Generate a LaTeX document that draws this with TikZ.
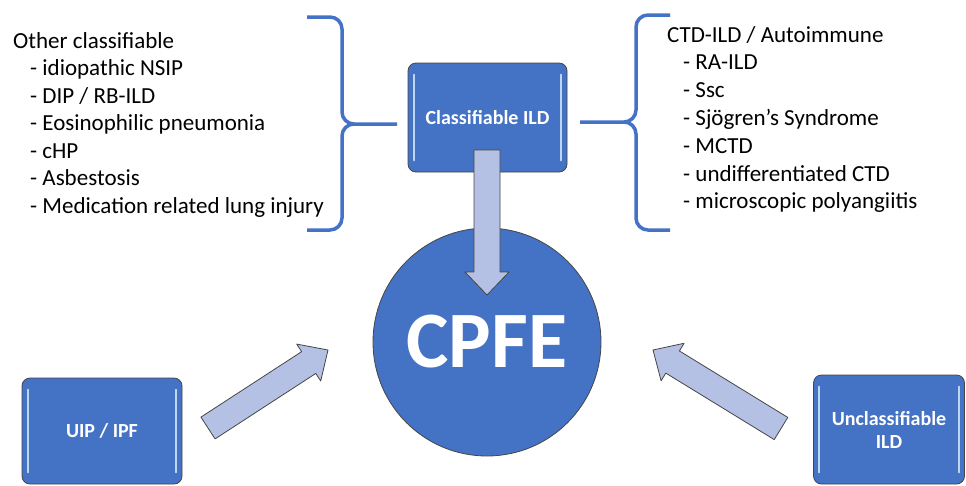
\documentclass[tikz,border=0pt]{standalone}
\usepackage{fontspec}
\setmainfont{Carlito}
\usetikzlibrary{calc,positioning}
\definecolor{ildblue}{RGB}{68,114,196}
\definecolor{arrowfill}{RGB}{180,193,228}
\definecolor{rimgray}{RGB}{70,70,70}
\definecolor{glint}{RGB}{189,215,238}

\tikzset{
  ildbox/.style={draw=rimgray, fill=ildblue, rounded corners=8pt, line width=0.8pt,
    text=white, font=\bfseries\fontsize{20}{23}\selectfont, align=center, inner sep=0pt},
  listtext/.style={anchor=base west, inner sep=0pt, font=\fontsize{23}{27.5}\selectfont},
  bracket/.style={draw=ildblue, line width=3.5pt, line join=round},
  fatarrow/.style={draw=rimgray, fill=arrowfill, line width=0.8pt, line join=round,
    to path={
      ($(\tikztostart)!13pt!90:(\tikztotarget)$)
      -- ($(\tikztotarget)!23pt!(\tikztostart)!13pt!-90:(\tikztostart)$)
      -- ($(\tikztotarget)!23pt!(\tikztostart)!22pt!-90:(\tikztostart)$)
      -- (\tikztotarget)
      -- ($(\tikztotarget)!23pt!(\tikztostart)!22pt!90:(\tikztostart)$)
      -- ($(\tikztotarget)!23pt!(\tikztostart)!13pt!90:(\tikztostart)$)
      -- ($(\tikztostart)!13pt!-90:(\tikztotarget)$)
      -- cycle}}
}

\begin{document}
\begin{tikzpicture}[x=1pt, y=-1pt]
    \useasboundingbox (0,0) rectangle (966,485);

    % the three boxes and the circle
    \node[ildbox, minimum width=159pt, minimum height=109pt] (cls) at (487.5,117.5) {Classifiable ILD};
    \node[ildbox, minimum width=160pt, minimum height=106pt] (uip) at (102,431) {UIP / IPF};
    \node[ildbox, minimum width=151pt, minimum height=109pt] (uncls) at (889,429.5) {Unclassifiable\\ILD};
    \foreach \b in {cls,uip,uncls} {
        \draw[glint, line width=2pt, line cap=round] ($(\b.north west)+(6,12)$) -- ($(\b.south west)+(6,-12)$);
        \draw[glint, line width=2pt, line cap=round] ($(\b.north east)+(-6,12)$) -- ($(\b.south east)+(-6,-12)$);
    }
    \node[circle, draw=rimgray, fill=ildblue, line width=0.8pt, minimum size=228pt, inner sep=0pt,
          text=white, font=\bfseries\fontsize{80}{80}\selectfont] (cpfe) at (487,342) {CPFE};

    % block arrows into CPFE
    \coordinate (clstail) at (487,150);
    \coordinate (clstip) at (487,295);
    \coordinate (uiptail) at (208,428);
    \coordinate (uiptip) at (328,350);
    \coordinate (uncltail) at (781,428.5);
    \coordinate (uncltip) at (653,350);
    \draw[fatarrow] (clstail) to (clstip);
    \draw[fatarrow] (uiptail) to (uiptip);
    \draw[fatarrow] (uncltail) to (uncltip);

    % braces
    \draw[bracket] (307,17) -- (330,17) to[out=0,in=90] (342,29) -- (342,112) to[out=-90,in=180] (354,124) -- (397,124);
    \draw[bracket] (354,124) to[out=180,in=90] (342,136) -- (342,218) to[out=-90,in=0] (330,230) -- (307,230);
    \draw[bracket] (670,15) -- (648,15) to[out=180,in=90] (636,27) -- (636,110) to[out=-90,in=0] (624,122) -- (580,122);
    \draw[bracket] (624,122) to[out=0,in=90] (636,134) -- (636,218) to[out=-90,in=180] (648,230) -- (670,230);

    % lists
    \node[listtext] (other) at (13,48) {Other classifiable};
    \foreach \t [count=\i] in {idiopathic NSIP, DIP / RB-ILD, Eosinophilic pneumonia, cHP, Asbestosis, Medication related lung injury} {
        \node[listtext] (oth\i) at (30,48+27.5*\i) {- \t};
    }
    \node[listtext] (ctd) at (667,42) {CTD-ILD / Autoimmune};
    \foreach \t [count=\i] in {RA-ILD, Ssc, Sjögren’s Syndrome, MCTD, undifferentiated CTD, microscopic polyangiitis} {
        \node[listtext] (ctd\i) at (683,42+27.8*\i) {- \t};
    }
\end{tikzpicture}
\end{document}
